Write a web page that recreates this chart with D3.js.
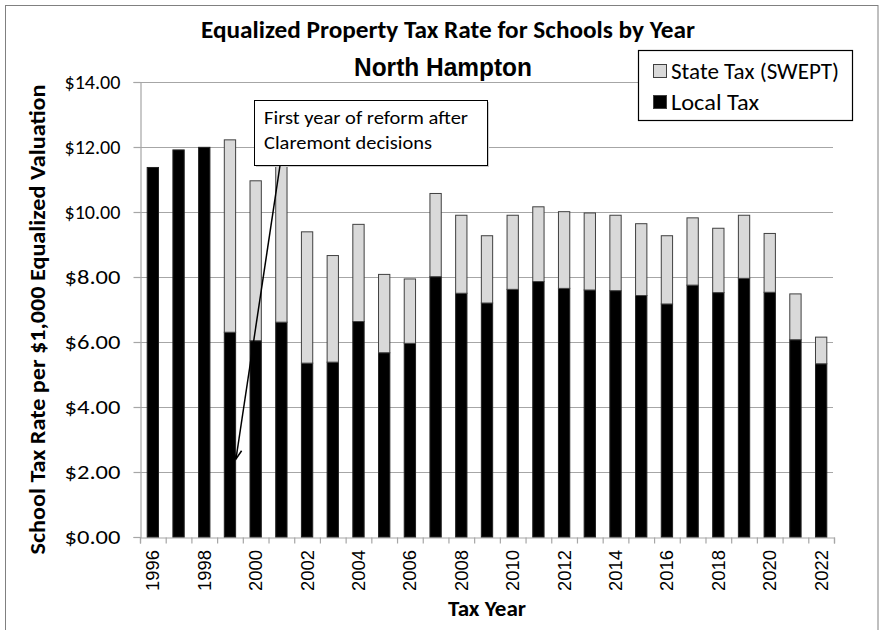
<!DOCTYPE html>
<html>
<head>
<meta charset="utf-8">
<script src="https://cdn.jsdelivr.net/npm/d3@7"></script>
<style>
  html, body { margin: 0; padding: 0; background: #fff; }
  svg { display: block; }
  text { font-family: Carlito, Calibri, Lato, sans-serif; fill: #000; }
</style>
</head>
<body>
<svg id="chart" width="882" height="630"></svg>
<script>
// ---- data ----
const years = [1996,1997,1998,1999,2000,2001,2002,2003,2004,2005,2006,2007,2008,2009,
               2010,2011,2012,2013,2014,2015,2016,2017,2018,2019,2020,2021,2022];
const localTax = [11.37,11.91,11.99,6.30,6.04,6.61,5.35,5.38,6.63,5.67,5.96,8.01,7.50,7.20,
                  7.62,7.86,7.65,7.60,7.58,7.43,7.17,7.75,7.52,7.96,7.53,6.07,5.33];
const stateTax = [0,0,0,5.92,4.92,5.20,4.04,3.28,2.99,2.41,1.98,2.56,2.40,2.07,
                  2.28,2.30,2.36,2.37,2.32,2.21,2.10,2.07,1.98,1.94,1.81,1.41,0.82];
const yTicks = [0,2,4,6,8,10,12,14];
const xLabelYears = years.filter((d,i) => i % 2 === 0);
const seriesNames = ["State Tax (SWEPT)", "Local Tax"];

const svg = d3.select("#chart");
const L = 140, R = 834, T = 82, B = 537;

const x = d3.scaleBand().domain(years).range([L, R]).paddingInner(0.56).paddingOuter(0.28);
const y = d3.scaleLinear().domain([0, 14]).range([B, T]);

function fitText(sel, w) {
  sel.attr("textLength", w).attr("lengthAdjust", "spacingAndGlyphs");
}

// outer frame
svg.append("rect").attr("x", 5.5).attr("y", 5.5).attr("width", 872.5).attr("height", 640)
  .attr("fill", "none").attr("stroke", "#808080").attr("stroke-width", 1);

// gridlines
svg.append("g").selectAll("line").data(yTicks.filter(d => d > 0)).join("line")
  .attr("x1", L).attr("x2", R - 1)
  .attr("y1", d => Math.round(y(d)) + 0.5).attr("y2", d => Math.round(y(d)) + 0.5)
  .attr("stroke", "#a6a6a6").attr("stroke-width", 1.2);

// y axis
const yAxis = svg.append("g").attr("transform", `translate(${L + 0.5},0)`)
  .call(d3.axisLeft(y).tickValues(yTicks).tickSize(7).tickPadding(13)
        .tickFormat(d => "$" + d.toFixed(2)));
yAxis.selectAll("path, line").attr("stroke", "#a6a6a6").attr("stroke-width", 1.2);
yAxis.selectAll("text").attr("font-size", 21).style("font-family", "Carlito, Calibri, Lato, sans-serif")
  .each(function() { fitText(d3.select(this), 56); });

// x axis (ticks at category boundaries)
const xb = d3.scaleLinear().domain([0, years.length]).range([L, R]);
const xAxis = svg.append("g").attr("transform", `translate(0,${B + 0.5})`)
  .call(d3.axisBottom(xb).tickValues(d3.range(years.length + 1)).tickSize(6).tickFormat(""));
xAxis.selectAll("path, line").attr("stroke", "#a6a6a6").attr("stroke-width", 1.2);

// bars: local
svg.append("g").selectAll("rect").data(years).join("rect")
  .attr("x", d => x(d)).attr("width", x.bandwidth())
  .attr("y", (d,i) => y(localTax[i])).attr("height", (d,i) => y(0) - y(localTax[i]))
  .attr("fill", "#000").attr("stroke", "#222").attr("stroke-width", 1);
// bars: state (stacked)
svg.append("g").selectAll("rect").data(years.filter((d,i) => stateTax[i] > 0)).join("rect")
  .attr("x", d => x(d)).attr("width", x.bandwidth())
  .attr("y", d => { const i = years.indexOf(d); return y(localTax[i] + stateTax[i]); })
  .attr("height", d => { const i = years.indexOf(d); return y(localTax[i]) - y(localTax[i] + stateTax[i]); })
  .attr("fill", "#d9d9d9").attr("stroke", "#404040").attr("stroke-width", 1);

// x tick labels
svg.append("g").selectAll("text").data(xLabelYears).join("text")
  .attr("transform", d => `translate(${x(d) + x.bandwidth() / 2},550) rotate(-90)`)
  .attr("text-anchor", "end").attr("dy", "0.36em")
  .style("font-family", "'Liberation Sans', Arial, sans-serif").attr("font-size", 18)
  .text(d => d).call(fitText, 41);

// titles
svg.append("text").attr("x", 448).attr("y", 38).attr("text-anchor", "middle")
  .attr("font-size", 24).attr("font-weight", "bold")
  .text("Equalized Property Tax Rate for Schools by Year").call(fitText, 494);
svg.append("text").attr("x", 443).attr("y", 76).attr("text-anchor", "middle")
  .attr("font-size", 25).attr("font-weight", "bold")
  .style("font-family", "'Liberation Sans', Arial, sans-serif")
  .text("North Hampton").call(fitText, 178);

// axis titles
svg.append("text").attr("transform", `translate(45,${(T + B) / 2 + 10}) rotate(-90)`)
  .attr("text-anchor", "middle").attr("font-size", 22).attr("font-weight", "bold")
  .text("School Tax Rate per $1,000 Equalized Valuation").call(fitText, 470);
svg.append("text").attr("x", 487).attr("y", 616).attr("text-anchor", "middle")
  .attr("font-size", 22).attr("font-weight", "bold")
  .text("Tax Year").call(fitText, 78);

// legend
const lg = svg.append("g");
lg.append("rect").attr("x", 638.5).attr("y", 50.5).attr("width", 214).attr("height", 70)
  .attr("fill", "#fff").attr("stroke", "#000").attr("stroke-width", 1.2);
const legendColors = ["#d9d9d9", "#000"];
seriesNames.forEach((name, i) => {
  const cy = 71 + i * 31;
  lg.append("rect").attr("x", 653.5).attr("y", cy - 6.5).attr("width", 13).attr("height", 13)
    .attr("fill", legendColors[i]).attr("stroke", "#404040").attr("stroke-width", 1);
  lg.append("text").attr("x", 671).attr("y", cy + 8).attr("font-size", 22).text(name)
    .call(fitText, i === 0 ? 168 : 88);
});

// annotation
const boxX = 254.5, boxY = 100.5, boxW = 233, boxH = 65;
svg.append("rect").attr("x", boxX + 1.5).attr("y", boxY + 1.5).attr("width", boxW).attr("height", boxH)
  .attr("fill", "#ccc");
svg.append("rect").attr("x", boxX).attr("y", boxY).attr("width", boxW).attr("height", boxH)
  .attr("fill", "#fff").attr("stroke", "#000").attr("stroke-width", 1);
svg.append("text").attr("x", 264).attr("y", 124).attr("font-size", 19)
  .text("First year of reform after").call(fitText, 204);
svg.append("text").attr("x", 264).attr("y", 149).attr("font-size", 19)
  .text("Claremont decisions").call(fitText, 168);

// arrow
const x0 = 280, y0 = boxY + boxH;
const x1 = x(1999) + x.bandwidth() / 2 + 6, y1 = y(2.4);
svg.append("line").attr("x1", x0).attr("y1", y0).attr("x2", x1).attr("y2", y1)
  .attr("stroke", "#000").attr("stroke-width", 1.5);
const ang = Math.atan2(y1 - y0, x1 - x0);
const ah = 10, aw = 0.45;
svg.append("path")
  .attr("d", `M${x1 - ah * Math.cos(ang - aw)},${y1 - ah * Math.sin(ang - aw)} L${x1},${y1} L${x1 - ah * Math.cos(ang + aw)},${y1 - ah * Math.sin(ang + aw)}`)
  .attr("fill", "none").attr("stroke", "#000").attr("stroke-width", 1.5);
</script>
</body>
</html>
